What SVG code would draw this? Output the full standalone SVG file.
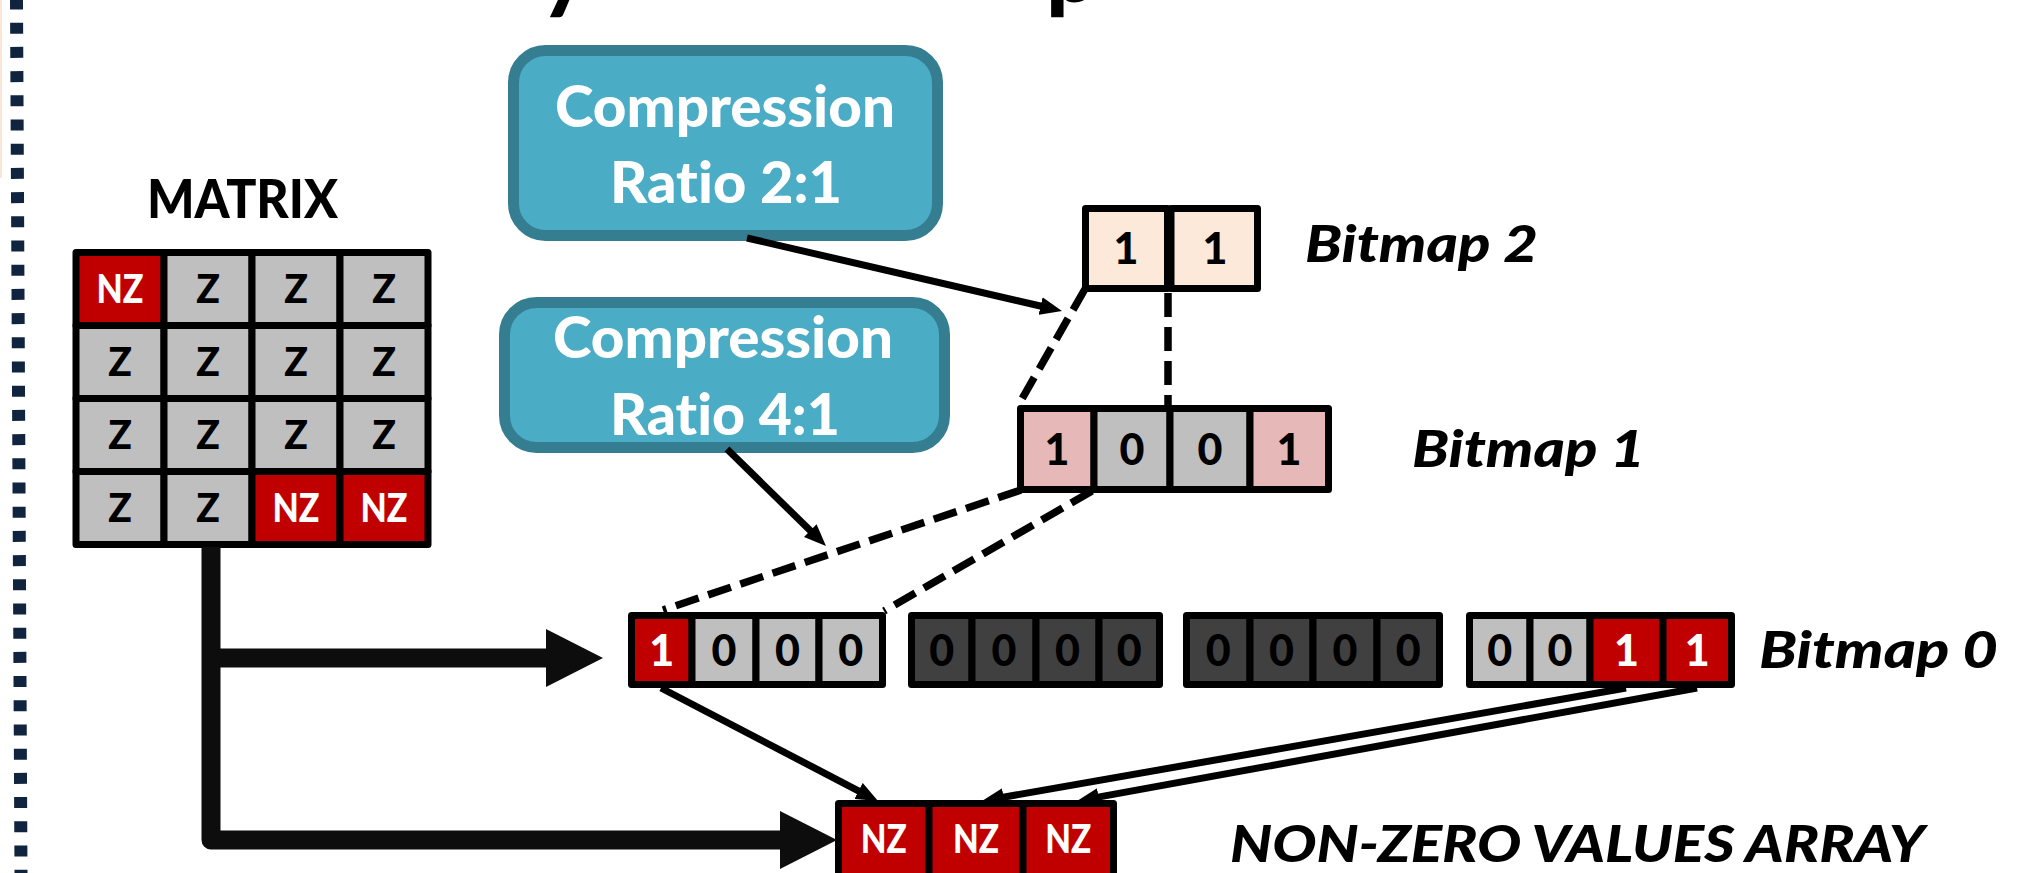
<svg xmlns="http://www.w3.org/2000/svg" width="2042" height="873" viewBox="0 0 2042 873">
  <style>
    .cell { stroke: #000; stroke-width: 7; stroke-linejoin: round; }
    .red { fill: #C00000; }
    .gray { fill: #BFBFBF; }
    .dark { fill: #404040; }
    .pink { fill: #E6B9B8; }
    .peach { fill: #FDE9D9; }
    text { font-variant-ligatures: none; }
    .t { font-family: Lato, "Open Sans", "Liberation Sans", sans-serif; font-weight: 900; text-anchor: middle; }
    .cz { font-size: 39px; }
    .dg { font-size: 43px; }
    .w { fill: #FFFFFF; }
    .k { fill: #000000; }
    .lbl { font-family: Lato, "Open Sans", "Liberation Sans", sans-serif; font-weight: 900; font-style: italic; fill: #000; font-size: 52px; }
    .callout { fill: #4BACC6; stroke: #357D91; stroke-width: 11; }
    .calltext { font-family: Lato, "Open Sans", "Liberation Sans", sans-serif; font-weight: 900; font-size: 57px; fill: #FFFFFF; text-anchor: middle; }
    .thin { stroke: #000; stroke-width: 7; fill: none; }
    .dash { stroke: #000; stroke-width: 7.5; fill: none; stroke-dasharray: 24 10; }
    .thick { stroke: #0D0D0D; stroke-width: 19; fill: none; stroke-linejoin: round; }
  </style>
  <defs>
    <marker id="bigHead" markerUnits="userSpaceOnUse" markerWidth="58" markerHeight="58" refX="1" refY="29" orient="auto">
      <path d="M0,0 L57,29 L0,58 Z" fill="#0D0D0D"/>
    </marker>
    <marker id="head" markerUnits="userSpaceOnUse" markerWidth="24" markerHeight="18" refX="2" refY="9" orient="auto">
      <path d="M0,0 L22,9 L0,18 Z" fill="#000"/>
    </marker>
  </defs>

  <rect width="2042" height="873" fill="#FFFFFF"/>

  <!-- slide frame: dotted margin rule and faint edge line -->
  <g id="frame">
    <line x1="1" y1="0" x2="1" y2="178" stroke="#FBE5D6" stroke-width="2"/>
    <line x1="16.5" y1="0" x2="21" y2="873" stroke="#10243F" stroke-width="13" stroke-dasharray="11 13.2" stroke-dashoffset="1.5"/>
  </g>

  <!-- heading descenders peeking in at the top edge -->
  <g id="heading">
    <text x="540" y="2" font-family="Lato, 'Open Sans', sans-serif" font-weight="900" font-size="90" fill="#000">y</text>
    <text x="1046" y="2" font-family="Lato, 'Open Sans', sans-serif" font-weight="900" font-size="90" fill="#000">p</text>
  </g>

  <!-- 4x4 input matrix -->
  <g id="matrix">
    <text class="t k" x="242.5" y="218" font-size="54" textLength="191" lengthAdjust="spacingAndGlyphs">MATRIX</text>
    <rect class="cell red" x="76" y="252.5" width="88" height="73"/>
    <rect class="cell gray" x="164" y="252.5" width="88" height="73"/>
    <rect class="cell gray" x="252" y="252.5" width="88" height="73"/>
    <rect class="cell gray" x="340" y="252.5" width="88" height="73"/>
    <rect class="cell gray" x="76" y="325.5" width="88" height="73"/>
    <rect class="cell gray" x="164" y="325.5" width="88" height="73"/>
    <rect class="cell gray" x="252" y="325.5" width="88" height="73"/>
    <rect class="cell gray" x="340" y="325.5" width="88" height="73"/>
    <rect class="cell gray" x="76" y="398.5" width="88" height="73"/>
    <rect class="cell gray" x="164" y="398.5" width="88" height="73"/>
    <rect class="cell gray" x="252" y="398.5" width="88" height="73"/>
    <rect class="cell gray" x="340" y="398.5" width="88" height="73"/>
    <rect class="cell gray" x="76" y="471.5" width="88" height="73"/>
    <rect class="cell gray" x="164" y="471.5" width="88" height="73"/>
    <rect class="cell red" x="252" y="471.5" width="88" height="73"/>
    <rect class="cell red" x="340" y="471.5" width="88" height="73"/>
    <text class="t cz w" x="120" y="303" textLength="47" lengthAdjust="spacingAndGlyphs">NZ</text>
    <text class="t cz k" x="208" y="303">Z</text>
    <text class="t cz k" x="296" y="303">Z</text>
    <text class="t cz k" x="384" y="303">Z</text>
    <text class="t cz k" x="120" y="376">Z</text>
    <text class="t cz k" x="208" y="376">Z</text>
    <text class="t cz k" x="296" y="376">Z</text>
    <text class="t cz k" x="384" y="376">Z</text>
    <text class="t cz k" x="120" y="449">Z</text>
    <text class="t cz k" x="208" y="449">Z</text>
    <text class="t cz k" x="296" y="449">Z</text>
    <text class="t cz k" x="384" y="449">Z</text>
    <text class="t cz k" x="120" y="522">Z</text>
    <text class="t cz k" x="208" y="522">Z</text>
    <text class="t cz w" x="296" y="522" textLength="47" lengthAdjust="spacingAndGlyphs">NZ</text>
    <text class="t cz w" x="384" y="522" textLength="47" lengthAdjust="spacingAndGlyphs">NZ</text>
  </g>

  <!-- callouts -->
  <g id="ratio-2-1">
    <rect class="callout" x="513.5" y="50.5" width="424" height="185" rx="32"/>
    <text class="calltext" x="725" y="127" textLength="340" lengthAdjust="spacingAndGlyphs">Compression</text>
    <text class="calltext" x="726" y="203" textLength="232" lengthAdjust="spacingAndGlyphs">Ratio 2:1</text>
  </g>
  <g id="ratio-4-1">
    <rect class="callout" x="504.5" y="302.5" width="440" height="145" rx="32"/>
    <text class="calltext" x="723" y="358" textLength="340" lengthAdjust="spacingAndGlyphs">Compression</text>
    <text class="calltext" x="725" y="435" textLength="230" lengthAdjust="spacingAndGlyphs">Ratio 4:1</text>
  </g>

  <!-- bitmap level 2 -->
  <g id="bitmap2">
    <rect class="cell peach" x="1085.5" y="208.5" width="82" height="80"/>
    <rect class="cell peach" x="1171" y="208.5" width="86.5" height="80"/>
    <text class="t dg k" x="1126" y="264">1</text>
    <text class="t dg k" x="1215" y="264">1</text>
    <text class="lbl" x="1305" y="262" textLength="233" lengthAdjust="spacingAndGlyphs">Bitmap 2</text>
  </g>

  <!-- bitmap level 1 -->
  <g id="bitmap1">
    <rect class="cell pink" x="1020.5" y="408.5" width="73.5" height="81"/>
    <rect class="cell gray" x="1094" y="408.5" width="76" height="81"/>
    <rect class="cell gray" x="1170" y="408.5" width="80" height="81"/>
    <rect class="cell pink" x="1250" y="408.5" width="78.5" height="81"/>
    <text class="t dg k" x="1057" y="465">1</text>
    <text class="t dg k" x="1132" y="465">0</text>
    <text class="t dg k" x="1210" y="465">0</text>
    <text class="t dg k" x="1289" y="465">1</text>
    <text class="lbl" x="1412" y="467" textLength="233" lengthAdjust="spacingAndGlyphs">Bitmap 1</text>
  </g>

  <!-- bitmap level 0: four groups of four bits -->
  <g id="bitmap0">
    <rect class="cell red" x="631.5" y="615.5" width="60.5" height="69"/>
    <rect class="cell gray" x="692" y="615.5" width="64" height="69"/>
    <rect class="cell gray" x="756" y="615.5" width="63" height="69"/>
    <rect class="cell gray" x="819" y="615.5" width="63.5" height="69"/>
    <text class="t dg w" x="661.75" y="666">1</text>
    <text class="t dg k" x="724" y="666">0</text>
    <text class="t dg k" x="787.5" y="666">0</text>
    <text class="t dg k" x="850.75" y="666">0</text>

    <rect class="cell dark" x="911.5" y="615.5" width="60.5" height="69"/>
    <rect class="cell dark" x="972" y="615.5" width="64" height="69"/>
    <rect class="cell dark" x="1036" y="615.5" width="63" height="69"/>
    <rect class="cell dark" x="1099" y="615.5" width="60.5" height="69"/>
    <text class="t dg k" x="941.75" y="666">0</text>
    <text class="t dg k" x="1004" y="666">0</text>
    <text class="t dg k" x="1067.5" y="666">0</text>
    <text class="t dg k" x="1129.25" y="666">0</text>

    <rect class="cell dark" x="1186.5" y="615.5" width="63.5" height="69"/>
    <rect class="cell dark" x="1250" y="615.5" width="63" height="69"/>
    <rect class="cell dark" x="1313" y="615.5" width="64" height="69"/>
    <rect class="cell dark" x="1377" y="615.5" width="62.5" height="69"/>
    <text class="t dg k" x="1218.25" y="666">0</text>
    <text class="t dg k" x="1281.5" y="666">0</text>
    <text class="t dg k" x="1345" y="666">0</text>
    <text class="t dg k" x="1408.25" y="666">0</text>

    <rect class="cell gray" x="1469.5" y="615.5" width="60.5" height="69"/>
    <rect class="cell gray" x="1530" y="615.5" width="60" height="69"/>
    <rect class="cell red" x="1590" y="615.5" width="73" height="69"/>
    <rect class="cell red" x="1663" y="615.5" width="68.5" height="69"/>
    <text class="t dg k" x="1499.75" y="666">0</text>
    <text class="t dg k" x="1560" y="666">0</text>
    <text class="t dg w" x="1626.5" y="666">1</text>
    <text class="t dg w" x="1697.25" y="666">1</text>

    <text class="lbl" x="1759" y="668" textLength="239" lengthAdjust="spacingAndGlyphs">Bitmap 0</text>
  </g>

  <!-- packed non-zero values -->
  <g id="nz-array">
    <rect class="cell red" x="838.5" y="803.5" width="90.5" height="80"/>
    <rect class="cell red" x="929" y="803.5" width="94" height="80"/>
    <rect class="cell red" x="1023" y="803.5" width="90.5" height="80"/>
    <text class="t cz w" x="883.75" y="853" textLength="46" lengthAdjust="spacingAndGlyphs">NZ</text>
    <text class="t cz w" x="976" y="853" textLength="46" lengthAdjust="spacingAndGlyphs">NZ</text>
    <text class="t cz w" x="1068.25" y="853" textLength="46" lengthAdjust="spacingAndGlyphs">NZ</text>
    <text class="lbl" x="1230" y="862" font-size="54" textLength="695" lengthAdjust="spacingAndGlyphs">NON-ZERO VALUES ARRAY</text>
  </g>

  <!-- connectors -->
  <g id="connectors">
    <!-- matrix feeds bitmap 0 and the value array -->
    <path class="thick" d="M211,547 L211,840 L781,840" marker-end="url(#bigHead)"/>
    <path class="thick" d="M211,658 L547,658" marker-end="url(#bigHead)"/>

    <!-- callout pointers -->
    <path class="thin" d="M747,238 L1042.5,306.5" marker-end="url(#head)"/>
    <path class="thin" d="M727,449 L811.7,532" marker-end="url(#head)"/>

    <!-- set bits point at their stored values -->
    <path class="thin" d="M661,688 L860.3,791.8" marker-end="url(#head)"/>
    <path class="thin" d="M1626,688 L1001.7,797.5" marker-end="url(#head)"/>
    <path class="thin" d="M1697,688 L1096.7,797.4" marker-end="url(#head)"/>

    <!-- coverage of each summary bit -->
    <path class="dash" d="M1085,289 L1019,404"/>
    <path class="dash" d="M1168,293 L1168,405"/>
    <path class="dash" d="M1021,490 L663,610"/>
    <path class="dash" d="M1092,491 L884,611"/>
  </g>
</svg>
